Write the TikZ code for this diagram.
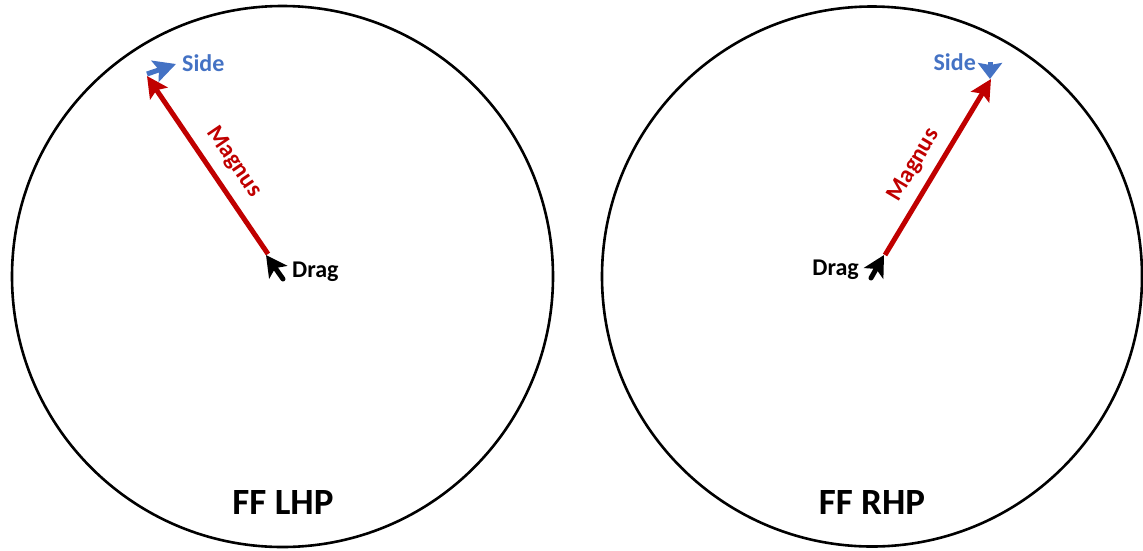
\documentclass[tikz,border=0pt]{standalone}
\usepackage{fontspec}
\setmainfont{Carlito}
\usetikzlibrary{arrows.meta}
\definecolor{magred}{HTML}{C00000}
\definecolor{sideblue}{HTML}{4472C4}
\tikzset{
  ball/.style={draw=black, line width=2.6pt},
  magnusarrow/.style={draw=magred, line width=5pt, -{Stealth[length=21pt,width=21pt,inset=4pt]}},
  sidearrow/.style={draw=sideblue, line width=5pt, -{Stealth[length=22pt,width=22pt,inset=4pt]}},
  dragarrow/.style={draw=black, line width=5pt, line cap=round, -{Stealth[length=21pt,width=22pt,inset=5pt]}},
  lbl/.style={font=\bfseries\fontsize{24}{26}\selectfont, inner sep=0pt},
  title/.style={font=\bfseries\fontsize{37}{40}\selectfont, inner sep=0pt},
}
\begin{document}
\begin{tikzpicture}[x=1pt,y=-1pt]
\useasboundingbox (0,0) rectangle (1143,550);
% circles
\node[ball, circle, minimum size=541pt, inner sep=0pt] (lc) at (282.5,276.5) {};
\node[ball, circle, minimum size=540pt, inner sep=0pt] (rc) at (872,276.5) {};
% left
\coordinate (lmt) at (268,254);
\coordinate (lmh) at (147,76);
\draw[magnusarrow] (lmt) -- (lmh);
\coordinate (lst) at (147,74);
\coordinate (lsh) at (176,64);
\draw[sidearrow] (lst) -- (lsh);
\node[lbl, text=sideblue, anchor=west] (lside) at (182,63) {Side};
\coordinate (ldt) at (283,279);
\coordinate (ldh) at (266,255);
\draw[dragarrow] (ldt) -- (ldh);
\node[lbl, anchor=west] (ldrag) at (292,272) {Drag};
\node[lbl, text=magred, rotate=-55.9] (lmag) at (234,162) {Magnus};
\node[title] (ltitle) at (283,502) {FF LHP};
% right
\coordinate (rmt) at (885,255);
\coordinate (rmh) at (991,79);
\draw[magnusarrow] (rmt) -- (rmh);
\coordinate (rst) at (990,62);
\coordinate (rsh) at (990,79);
\draw[sidearrow, -{Stealth[length=16pt,width=24pt,inset=2pt]}] (rst) -- (rsh);
\node[lbl, text=sideblue, anchor=east] (rside) at (976,62) {Side};
\coordinate (rdt) at (871,278);
\coordinate (rdh) at (884,255);
\draw[dragarrow] (rdt) -- (rdh);
\node[lbl, anchor=east] (rdrag) at (859,270) {Drag};
\node[lbl, text=magred, rotate=59.3] (rmag) at (914,165) {Magnus};
\node[title] (rtitle) at (872,502) {FF RHP};
\end{tikzpicture}
\end{document}
